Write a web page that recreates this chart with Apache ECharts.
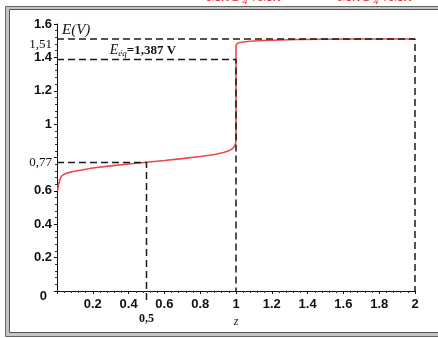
<!DOCTYPE html>
<html><head><meta charset="utf-8">
<script src="https://cdn.jsdelivr.net/npm/echarts@6/dist/echarts.min.js"></script>
<style>html,body{margin:0;padding:0;background:#fff}#c{width:438px;height:338px}</style>
</head><body><div id="c"></div>
<script>
// Redox titration curve: E (V) against the titration ratio z
const zBefore = [0.003, 0.008, 0.015, 0.025, 0.04, 0.06, 0.09, 0.13, 0.2, 0.3, 0.4, 0.5, 0.6, 0.7, 0.8, 0.88, 0.93, 0.96, 0.98, 0.99, 0.997, 1.0];
const eBefore = [0.60, 0.635, 0.665, 0.688, 0.700, 0.708, 0.716, 0.724, 0.737, 0.750, 0.761, 0.772, 0.782, 0.793, 0.806, 0.818, 0.830, 0.840, 0.852, 0.864, 0.880, 0.90];
const zAfter = [1.0, 1.0, 1.002, 1.006, 1.015, 1.04, 1.08, 1.15, 1.25, 1.35, 1.5, 1.7, 1.9, 2.0];
const eAfter = [0.90, 1.46, 1.478, 1.484, 1.488, 1.492, 1.497, 1.501, 1.504, 1.507, 1.509, 1.51, 1.51, 1.51];

// Reference levels
const E_FE = 0.77, Z_HALF = 0.5;
const E_EQ = 1.387, Z_EQ = 1;
const E_MN = 1.51, Z_END = 2;

const yTickHidden = [0.8];

const RED = '#ee4848';
const DASH = { color: '#1a1a1a', width: 1.5, type: [7, 4] };

const chart = echarts.init(document.getElementById('c'));

function zip(xs, ys) { return xs.map((x, i) => [x, ys[i]]); }

const guides = [
  [[0, E_FE], [Z_HALF, E_FE], [Z_HALF, -0.06]],
  [[0, E_EQ], [Z_EQ, E_EQ], [Z_EQ, 0]],
  [[0, E_MN], [Z_END, E_MN], [Z_END, 0]]
];

const boldLabel = { fontFamily: 'Liberation Sans, Arial, sans-serif', fontWeight: 'bold', fontSize: 13, color: '#111' };

chart.setOption({
  animation: false,
  grid: { left: 57, right: 23, top: 24, bottom: 47 },
  xAxis: {
    type: 'value', min: 0, max: 2, interval: 0.2,
    axisLine: { show: true, onZero: false, lineStyle: { color: '#111', width: 1 } },
    axisTick: { show: true, inside: false, length: 3, lineStyle: { color: '#111' } },
    minorTick: { show: true, splitNumber: 5, length: 2, lineStyle: { color: '#333' } },
    splitLine: { show: false },
    axisLabel: Object.assign({}, boldLabel, {
      margin: 7,
      formatter: v => (v === 0 ? '' : String(v))
    })
  },
  yAxis: {
    type: 'value', min: 0, max: 1.6, interval: 0.2,
    axisLine: { show: true, onZero: false, lineStyle: { color: '#111', width: 1 } },
    axisTick: { show: true, inside: false, length: 3, lineStyle: { color: '#111' } },
    minorTick: { show: true, splitNumber: 5, length: 2, lineStyle: { color: '#333' } },
    splitLine: { show: false },
    axisLabel: Object.assign({}, boldLabel, {
      margin: 5,
      formatter: v => {
        if (yTickHidden.some(h => Math.abs(h - v) < 1e-9)) return '';
        if (v === 0) return '{o|0}';
        return String(v);
      },
      rich: { o: Object.assign({}, boldLabel, { padding: [11, 5, 0, 0] }) }
    })
  },
  series: [
    ...guides.map(g => ({
      type: 'line', data: g, symbol: 'none', clip: false, z: 3,
      lineStyle: DASH, silent: true
    })),
    { type: 'line', data: zip(zBefore, eBefore), symbol: 'none', z: 2, lineStyle: { color: RED, width: 1.6 } },
    { type: 'line', data: zip(zAfter, eAfter), symbol: 'none', z: 2, lineStyle: { color: RED, width: 1.6 } }
  ]
});

const px = p => chart.convertToPixel({ gridIndex: 0 }, p);

const serif = 'Liberation Serif, Times New Roman, serif';
const pY151 = px([0, E_MN]);
const pY077 = px([0, E_FE]);
const pX05 = px([Z_HALF, 0]);
const pX1 = px([Z_EQ, 0]);
const pTop = px([0, 1.6]);
const pEq = px([0.48, 1.443]);

chart.setOption({
  graphic: [
    // framed panel border
    { type: 'rect', z: -10, silent: true, shape: { x: 5.5, y: 6.5, width: 470, height: 330 },
      style: { fill: '#c4c4c4', stroke: '#666', lineWidth: 1 } },
    { type: 'rect', z: -9, silent: true, shape: { x: 9.5, y: 9.5, width: 470, height: 323 },
      style: { fill: '#fff', stroke: '#555', lineWidth: 1 } },
    // couple labels above the panel
    { type: 'text', x: 207, y: 5.5, silent: true,
      style: { text: 'MnO₄⁻/Mn²⁺', fill: '#e8262a', font: 'italic 17px ' + serif, textVerticalAlign: 'bottom' } },
    { type: 'text', x: 338, y: 5.5, silent: true,
      style: { text: 'MnO₄⁻/Mn²⁺', fill: '#e8262a', font: 'italic 17px ' + serif, textVerticalAlign: 'bottom' } },
    // axis annotations
    { type: 'text', x: pTop[0] + 5, y: pTop[1] + 6, silent: true,
      style: { text: 'E(V)', fill: '#111', font: 'italic 15px ' + serif, textVerticalAlign: 'middle' } },
    { type: 'text', x: pY151[0] - 5, y: pY151[1] + 6, silent: true,
      style: { text: '1,51', fill: '#111', font: '13px ' + serif, textAlign: 'right', textVerticalAlign: 'middle' } },
    { type: 'text', x: pY077[0] - 5, y: pY077[1], silent: true,
      style: { text: '0,77', fill: '#111', font: '13px ' + serif, textAlign: 'right', textVerticalAlign: 'middle' } },
    { type: 'text', x: pX05[0], y: pX05[1] + 28, silent: true,
      style: { text: '0,5', fill: '#111', font: 'bold 12px ' + serif, textAlign: 'center', textVerticalAlign: 'middle' } },
    { type: 'text', x: pX1[0], y: pX1[1] + 31, silent: true,
      style: { text: 'z', fill: '#111', font: 'italic 12px ' + serif, textAlign: 'center', textVerticalAlign: 'middle' } },
    { type: 'text', x: pEq[0], y: pEq[1], silent: true,
      style: {
        text: '{e|E}{s|éq}{v|=1,387 V}',
        textAlign: 'center', textVerticalAlign: 'middle',
        rich: {
          e: { fontFamily: serif, fontStyle: 'italic', fontSize: 14, fill: '#111' },
          s: { fontFamily: serif, fontStyle: 'italic', fontSize: 9, fill: '#111', padding: [7, 0, 0, 0] },
          v: { fontFamily: serif, fontWeight: 'bold', fontSize: 13, fill: '#111' }
        }
      } }
  ]
});
</script></body></html>
